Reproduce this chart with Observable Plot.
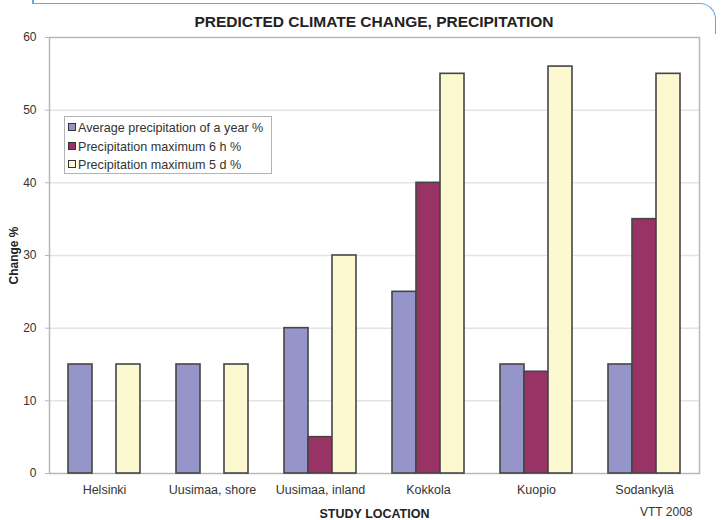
<!DOCTYPE html>
<html>
<head>
<meta charset="utf-8">
<script src="https://cdn.jsdelivr.net/npm/d3@7"></script>
<script src="https://cdn.jsdelivr.net/npm/@observablehq/plot@0.6"></script>
<style>
  html, body { margin: 0; padding: 0; background: #fff; }
  #wrap { position: relative; width: 724px; height: 520px; overflow: hidden; font-family: "Liberation Sans", Arial, sans-serif; }
  #frame { position: absolute; left: 33px; top: 3px; width: 682px; height: 30px; border-top: 1.5px solid #6aa6dc; border-right: 1.5px solid #6aa6dc; border-top-right-radius: 16px; }
  #frameTick { position: absolute; left: 32px; top: 0; width: 1.5px; height: 4px; background: #6aa6dc; }
  #title { position: absolute; left: 0; top: 13px; width: 748px; text-align: center; font-weight: bold; font-size: 15.5px; line-height: 18px; color: #222; }
  .layer { position: absolute; left: 0; top: 30px; }
  #legend { position: absolute; left: 64px; top: 116px; width: 206px; height: 56px; border: 1px solid #b4b4b4; background: #fff; font-size: 12.6px; color: #333; }
  #legend .item { position: absolute; left: 3px; height: 15px; line-height: 15px; white-space: nowrap; }
  #legend .sw { display: inline-block; width: 6px; height: 6px; border: 1px solid #333; margin-right: 2px; vertical-align: 1px; }
  #vtt { position: absolute; left: 640px; top: 506px; font-size: 12px; line-height: 13px; color: #333; }
</style>
</head>
<body>
<div id="wrap">
  <div id="frame"></div>
  <div id="frameTick"></div>
  <div id="title">PREDICTED CLIMATE CHANGE, PRECIPITATION</div>
  <div id="back" class="layer"></div>
  <div id="front" class="layer"></div>
  <div id="legend"></div>
  <div id="vtt">VTT 2008</div>
</div>
<script>
// Study locations along the x axis
const locations = ["Helsinki", "Uusimaa, shore", "Uusimaa, inland", "Kokkola", "Kuopio", "Sodankylä"];

// Series names (legend order)
const seriesNames = [
  "Average precipitation of a year %",
  "Precipitation maximum 6 h %",
  "Precipitation maximum 5 d %"
];
const seriesColors = ["#9595c9", "#993366", "#fcf8cf"];

// Predicted change (%) per location, one array per series; null = no bar
const avgYear = [15, 15, 20, 25, 15, 15];
const max6h   = [null, null, 5, 40, 14, 35];
const max5d   = [15, 15, 30, 55, 56, 55];

const yTicks = [0, 10, 20, 30, 40, 50, 60];

const seriesValues = [avgYear, max6h, max5d];
const rows = [];
locations.forEach((loc, i) => {
  seriesValues.forEach((vals, s) => {
    if (vals[i] != null) rows.push({location: loc, series: seriesNames[s], value: vals[i]});
  });
});

// Shared frame geometry for both layers
const common = {
  width: 724,
  height: 490,
  marginTop: 7,
  marginBottom: 47,
  marginLeft: 49,
  marginRight: 25,
  style: {fontFamily: "Liberation Sans, Arial, sans-serif", fontSize: "12px", color: "#333", background: "transparent", overflow: "visible"}
};

// Back layer: gridlines, plot frame, value axis
const back = Plot.plot({
  ...common,
  x: {domain: locations, paddingInner: 0.33, paddingOuter: 0.165, axis: null},
  y: {domain: [0, 60], ticks: yTicks},
  marks: [
    Plot.ruleY(yTicks.slice(1, -1), {stroke: "#e4e4e4", strokeWidth: 1.5}),
    Plot.frame({stroke: "#b8b8b8", strokeWidth: 1.5}),
    Plot.axisY({ticks: yTicks, tickSize: 4, tickPadding: 9, stroke: "#b8b8b8", fontSize: 12,
      label: "Change %", labelArrow: "none", labelAnchor: "center", labelOffset: 40})
  ]
});
document.getElementById("back").appendChild(back);

// Front layer: grouped bars faceted by location, with location labels
const front = Plot.plot({
  ...common,
  fx: {domain: locations, paddingInner: 0.33, paddingOuter: 0.165, label: null},
  x: {domain: seriesNames, padding: 0, axis: null},
  y: {domain: [0, 60], axis: null},
  color: {domain: seriesNames, range: seriesColors},
  marks: [
    Plot.barY(rows, {
      fx: "location",
      x: "series",
      y: "value",
      fill: "series",
      stroke: "#454545",
      strokeWidth: 1.6
    }),
    Plot.axisFx({anchor: "bottom", tickSize: 0, tickPadding: 12, fontSize: 12.5, label: "STUDY LOCATION",
      labelArrow: "none", labelAnchor: "center", labelOffset: 44})
  ]
});
document.getElementById("front").appendChild(front);

// Bold axis titles
[back, front].forEach(svg => {
  svg.querySelectorAll("[aria-label$='axis label'] text").forEach(t => {
    t.setAttribute("font-weight", "bold");
    t.setAttribute("fill", "#222");
  });
});

// Legend
const legend = document.getElementById("legend");
seriesNames.forEach((name, i) => {
  const item = document.createElement("div");
  item.className = "item";
  item.style.top = (4 + i * 18.5) + "px";
  const sw = document.createElement("span");
  sw.className = "sw";
  sw.style.background = seriesColors[i];
  item.appendChild(sw);
  item.appendChild(document.createTextNode(name));
  legend.appendChild(item);
});
</script>
</body>
</html>
